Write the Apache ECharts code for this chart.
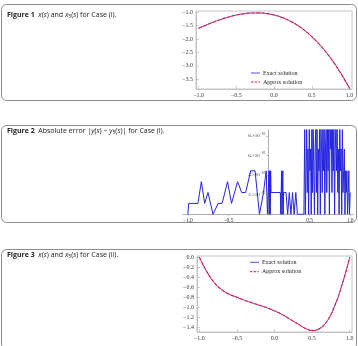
<!DOCTYPE html>
<html>
<head>
<meta charset="utf-8">
<script src="https://cdn.jsdelivr.net/npm/echarts@6/dist/echarts.min.js"></script>
<style>
html, body { margin:0; padding:0; background:#fff; }
#main { width:358px; height:346px; }
</style>
</head>
<body>
<div id="main"></div>
<script>
// Figure 1: x(s) and x5(s), case (i)
const s1 = [-1.0, -0.9, -0.8, -0.7, -0.6, -0.5, -0.4, -0.3, -0.2, -0.1, 0.0,
            0.1, 0.2, 0.3, 0.4, 0.5, 0.6, 0.7, 0.8, 0.9, 1.0];
const exact1 = [-1.60, -1.476, -1.361, -1.26, -1.173, -1.102, -1.052, -1.024, -1.022, -1.046, -1.10,
                -1.186, -1.308, -1.468, -1.668, -1.91, -2.197, -2.532, -2.919, -3.356, -3.85];
const approx1 = [-1.60, -1.476, -1.361, -1.26, -1.173, -1.102, -1.052, -1.024, -1.022, -1.046, -1.10,
                 -1.186, -1.308, -1.468, -1.668, -1.91, -2.197, -2.532, -2.919, -3.356, -3.85];
const xTicks1 = [-1, -0.5, 0, 0.5, 1];
const yTicks1 = [-3.5, -3, -2.5, -2, -1.5, -1];

// Figure 2: absolute error |y(s) - y5(s)|, in units of 1e-16
// sparse part, s from -1 to about 0.43
const errS = [-1.0, -0.99, -0.876, -0.834, -0.793, -0.752, -0.69, -0.627, -0.578, -0.511, -0.462,
              -0.387, -0.337, -0.288, -0.226, -0.172, -0.118, -0.068, -0.035, -0.019, 0.0,
              0.005, 0.01, 0.015, 0.02, 0.025, 0.14, 0.145, 0.155, 0.16, 0.17, 0.175, 0.18,
              0.21, 0.23, 0.25, 0.27, 0.29, 0.31, 0.33, 0.35, 0.43];
const errVal = [0, 1.11, 1.11, 3.33, 1.11, 2.22, 0, 1.11, 1.11, 3.33, 1.11,
                3.33, 2.22, 2.22, 4.44, 4.44, 0, 2.22, 4.44, 0, 4.44,
                0, 4.44, 0, 4.44, 2.22, 2.22, 0, 4.44, 0, 4.44, 0, 2.22,
                2.22, 0, 2.22, 0, 2.22, 0, 2.22, 0, 0];
// dense part, s from 0.44 to 1
const denseS = [0.44, 0.448, 0.456, 0.464, 0.472, 0.48, 0.488, 0.496, 0.504, 0.512, 0.52, 0.528,
                0.536, 0.544, 0.552, 0.56, 0.568, 0.576, 0.584, 0.592, 0.6, 0.608, 0.616, 0.624,
                0.632, 0.64, 0.648, 0.656, 0.664, 0.672, 0.68, 0.688, 0.696, 0.704, 0.712, 0.72,
                0.728, 0.736, 0.744, 0.752, 0.76, 0.768, 0.776, 0.784, 0.792, 0.8, 0.808, 0.816,
                0.824, 0.832, 0.84, 0.848, 0.856, 0.864, 0.872, 0.88, 0.888, 0.896, 0.904, 0.912,
                0.92, 0.928, 0.936, 0.944, 0.952, 0.96, 0.968, 0.976, 0.984, 0.992, 1.0];
const denseVal = [8.88, 0, 4.44, 8.88, 2.22, 6.66, 0, 8.88, 4.44, 6.66, 0, 8.88,
                  2.22, 8.88, 4.44, 0, 6.66, 8.88, 2.22, 8.88, 0, 6.66, 4.44, 8.88,
                  0, 8.88, 6.66, 2.22, 8.88, 4.44, 8.88, 0, 6.66, 8.88, 2.22, 8.88,
                  4.44, 8.88, 0, 8.88, 6.66, 8.88, 2.22, 8.88, 4.44, 8.88, 0, 6.66,
                  8.88, 4.44, 8.88, 2.22, 6.66, 0, 8.88, 4.44, 6.66, 0, 8.88, 2.22,
                  4.44, 6.66, 0, 4.44, 2.22, 4.44, 0, 2.22, 4.44, 0, 2.22];
const xTicks2 = [-1, -0.5, 0.5, 1];
const yTicks2 = [2, 4, 6, 8];

// Figure 3: x(s) and x5(s), case (ii)
const s3 = [-1.0, -0.9, -0.8, -0.7, -0.6, -0.5, -0.4, -0.3, -0.2, -0.1, 0.0,
            0.1, 0.2, 0.3, 0.4, 0.5, 0.6, 0.7, 0.8, 0.9, 1.0];
const exact3 = [0.0, -0.29, -0.51, -0.65, -0.74, -0.80, -0.86, -0.91, -0.96, -1.01, -1.07,
                -1.14, -1.23, -1.32, -1.41, -1.46, -1.42, -1.27, -0.97, -0.54, 0.0];
const approx3 = [0.0, -0.29, -0.51, -0.65, -0.74, -0.80, -0.86, -0.91, -0.96, -1.01, -1.07,
                 -1.14, -1.23, -1.32, -1.41, -1.46, -1.42, -1.27, -0.97, -0.54, 0.0];
const xTicks3 = [-1, -0.5, 0, 0.5, 1];
const yTicks3 = [-1.4, -1.2, -1, -0.8, -0.6, -0.4, -0.2, 0];

const legendNames = ['Exact solution', 'Approx solution'];

const BLUE = '#5050e8';
const RED = '#e01c44';
const SERIF = '"Liberation Serif", "DejaVu Serif", serif';
const SANS = '"Open Sans", "Noto Sans", sans-serif';

function minus(v, dec) {
  const t = Math.abs(v).toFixed(dec);
  return (v < 0 ? '\u2212' : '') + t;
}

function pairs(xs, ys) {
  return xs.map((x, i) => [x, ys[i]]);
}

function frameAxis(idx, min, max, ticks, dec) {
  return {
    type: 'value', gridIndex: idx, min: min, max: max,
    axisLine: { show: true, onZero: false, lineStyle: { color: '#c4c4c4', width: 1 } },
    axisTick: { show: true, inside: true, length: 3, customValues: ticks, lineStyle: { color: '#b0b0b0', width: 0.6 } },
    splitLine: { show: false },
    axisLabel: {
      customValues: ticks, fontFamily: SERIF, fontSize: 6, color: '#333', margin: 3,
      formatter: v => minus(v, dec)
    }
  };
}

// legend drawn as small graphic entries (line sample + label)
function legendItems(x, y, gap) {
  const out = [];
  legendNames.forEach((name, i) => {
    const yy = y + i * gap;
    out.push({
      type: 'line', shape: { x1: x, y1: yy, x2: x + 9, y2: yy },
      style: { stroke: i === 0 ? BLUE : RED, lineWidth: 1, lineDash: i === 0 ? null : [2.5, 1.2] }
    });
    out.push({
      type: 'text', x: x + 12, y: yy,
      style: { text: name, fontFamily: SERIF, fontSize: 6, fill: '#222', verticalAlign: 'middle' }
    });
  });
  return out;
}

function solSeries(idx, xs, ex, ap) {
  return [
    { name: legendNames[0], type: 'line', xAxisIndex: idx, yAxisIndex: idx, smooth: true,
      showSymbol: false, data: pairs(xs, ex), lineStyle: { color: BLUE, width: 0.8 } },
    { name: legendNames[1], type: 'line', xAxisIndex: idx, yAxisIndex: idx, smooth: true,
      showSymbol: false, data: pairs(xs, ap), lineStyle: { color: RED, width: 1.1, type: [4, 1] } }
  ];
}

function title(y, num, parts) {
  const fs = 7;
  return {
    type: 'text', x: 7, y: y,
    style: {
      text: '{b|Figure ' + num + '}  ' + parts,
      fontFamily: SANS, fontSize: fs, fill: '#222', verticalAlign: 'middle',
      rich: {
        b: { fontWeight: 'bold', fontFamily: SANS, fontSize: fs },
        i: { fontStyle: 'italic', fontFamily: SANS, fontSize: fs },
        sub: { fontFamily: SANS, fontSize: 5, padding: [3, 0, 0, 0] }
      }
    }
  };
}

function box(y, h) {
  return {
    type: 'rect', shape: { x: 1.5, y: y, width: 355, height: h, r: 5 },
    style: { fill: 'none', stroke: '#8c8c8c', lineWidth: 1 }
  };
}

const chart = echarts.init(document.getElementById('main'));

// figure 2 grid: x = -1.06 at left edge, 80.5 px per unit, so x = 0 sits 85.3 px in
const g2Left = 183;
const g2Zero = 85.3;

const option = {
  animation: false,
  grid: [
    { left: 196, top: 11, width: 156, height: 78, show: true, borderColor: '#c4c4c4', borderWidth: 1 },
    { left: g2Left, top: 130, width: 170, height: 84.3, show: false },
    { left: 197, top: 256, width: 155, height: 76, show: true, borderColor: '#c4c4c4', borderWidth: 1 }
  ],
  xAxis: [
    frameAxis(0, -1.034, 1.032, xTicks1, 1),
    {
      type: 'value', gridIndex: 1, min: -1.06, max: 1.035,
      axisLine: { show: true, onZero: true, lineStyle: { color: '#999', width: 0.8 } },
      axisTick: { show: true, length: 2, customValues: xTicks2, lineStyle: { color: '#999', width: 0.6 } },
      splitLine: { show: false },
      axisLabel: { customValues: xTicks2, fontFamily: SERIF, fontSize: 5.5, color: '#333', margin: 3,
                   formatter: v => minus(v, 1) }
    },
    frameAxis(2, -1.03, 1.03, xTicks3, 1)
  ],
  yAxis: [
    frameAxis(0, -3.87, -0.95, yTicks1, 1),
    {
      type: 'value', gridIndex: 1, min: 0, max: 8.6, position: 'left', offset: -g2Zero,
      axisLine: { show: true, onZero: false, lineStyle: { color: '#999', width: 0.8 } },
      axisTick: { show: true, length: 2, customValues: yTicks2, lineStyle: { color: '#999', width: 0.6 } },
      splitLine: { show: false },
      axisLabel: {
        customValues: yTicks2, margin: 3, color: '#333',
        formatter: v => '{m|' + v + '.\u00d710}{e|\u221216}',
        rich: {
          m: { fontFamily: SERIF, fontSize: 5, color: '#333' },
          e: { fontFamily: SERIF, fontSize: 3.5, color: '#333', padding: [0, 0, 4, 0] }
        }
      }
    },
    frameAxis(2, -1.49, 0.02, yTicks3, 1)
  ],
  series: [
    ...solSeries(0, s1, exact1, approx1),
    { name: 'error', type: 'line', xAxisIndex: 1, yAxisIndex: 1, showSymbol: false, clip: true,
      data: pairs(errS.concat(denseS), errVal.concat(denseVal)), lineStyle: { color: '#2424e0', width: 1 } },
    ...solSeries(2, s3, exact3, approx3)
  ],
  graphic: [
    box(4.5, 96),
    box(125.5, 97),
    box(249.5, 100),
    title(15, 1, '{i|x}({i|s}) and {i|x}{sub|5}({i|s}) for Case (i).'),
    title(131, 2, 'Absolute error |{i|y}({i|s}) \u2212 {i|y}{sub|5}({i|s})| for Case (i).'),
    title(255, 3, '{i|x}({i|s}) and {i|x}{sub|5}({i|s}) for Case (ii).'),
    ...legendItems(251, 73, 9),
    ...legendItems(250, 262.3, 9.4)
  ]
};

chart.setOption(option);
</script>
</body>
</html>
